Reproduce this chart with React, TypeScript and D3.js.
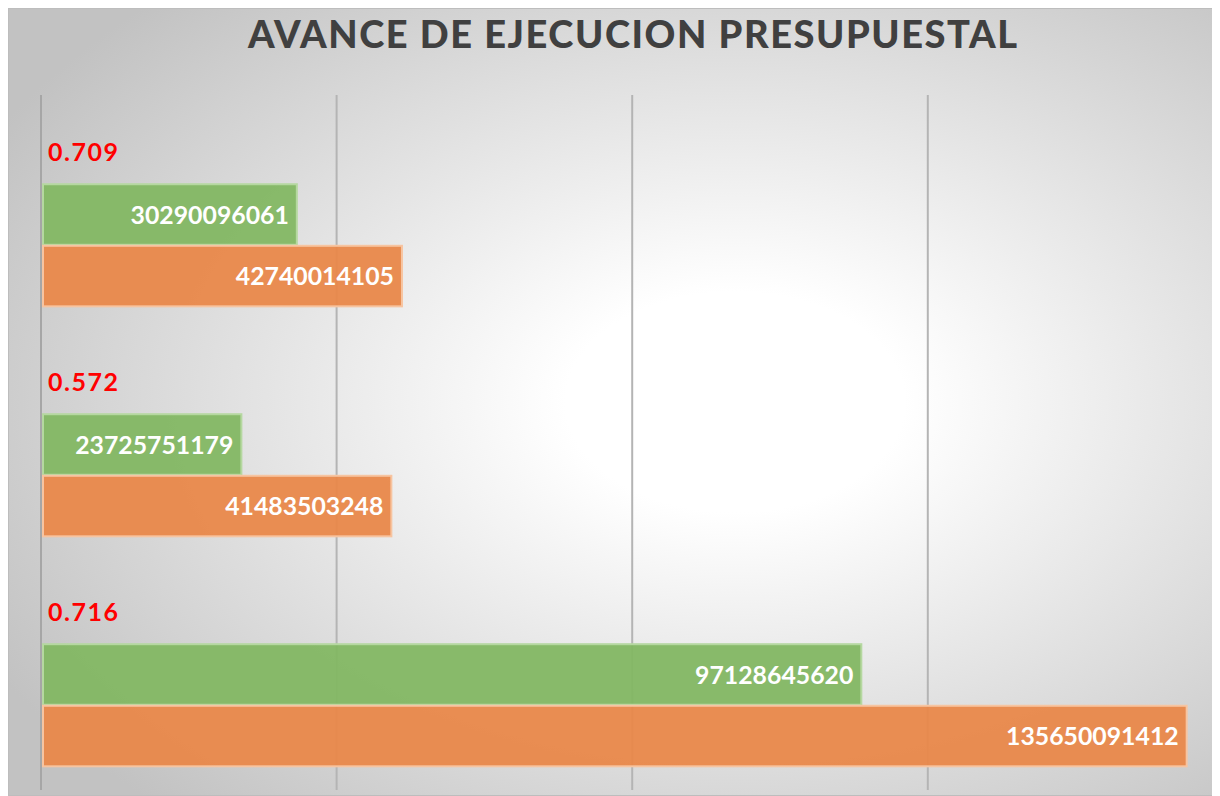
import React from 'react';
import * as d3 from 'd3';

// chart values
const categories = ['Grupo 1', 'Grupo 2', 'Grupo 3'];
const porcentaje = [0.709, 0.572, 0.716];
const ejecutado = [30290096061, 23725751179, 97128645620];
const presupuesto = [42740014105, 41483503248, 135650091412];
const gridTicks = [0, 3.5e10, 7e10, 1.05e11];
const title = 'AVANCE DE EJECUCION PRESUPUESTAL';

const width = 1212;
const height = 788;
const font = "'Comic Sans MS', Lato, 'DejaVu Sans', sans-serif";

const App = () => {
  const x = d3.scaleLinear().domain([0, 1.4e11]).range([33, 1215.4]);
  const y = d3.scaleBand<string>()
    .domain(categories)
    .range([87, 785])
    .paddingInner(0.197)
    .paddingOuter(0.116);
  const slot = d3.scaleBand<string>()
    .domain(['pct', 'ejec', 'pres'])
    .range([0, y.bandwidth()]);

  const series = [
    { key: 'ejec', values: ejecutado, fill: '#83b763', stroke: '#b5d8a0' },
    { key: 'pres', values: presupuesto, fill: '#e9884a', stroke: '#f7c4a0' },
  ];

  return (
    <svg width={width} height={height} style={{ display: 'block' }}>
      <defs>
        <radialGradient id="bg" cx="60%" cy="50%" r="70%">
          <stop offset="0%" stopColor="#ffffff" />
          <stop offset="20%" stopColor="#ffffff" />
          <stop offset="100%" stopColor="#c2c2c2" />
        </radialGradient>
      </defs>
      <rect x={0.5} y={0.5} width={width - 1} height={height - 1} fill="url(#bg)" stroke="#bdbdbd" />
      <text
        x={624.5}
        y={40}
        textAnchor="middle"
        fontFamily={font}
        fontWeight={900}
        fontSize={38}
        fill="#404040"
        textLength={769}
        lengthAdjust="spacing"
      >
        {title}
      </text>

      {gridTicks.map((t, i) => (
        <line
          key={t}
          x1={x(t)}
          x2={x(t)}
          y1={87}
          y2={782}
          stroke={i === 0 ? '#a6a6a6' : '#b4b4b4'}
          strokeWidth={2}
        />
      ))}

      {categories.map((c, ci) => (
        <g key={c} transform={`translate(0,${y(c)})`}>
          <text
            x={x(0) + 7}
            y={(slot('pct') as number) + slot.bandwidth() / 2}
            dy="0.35em"
            fontFamily={font}
            fontWeight={700}
            fontSize={25}
            letterSpacing={1.5}
            fill="#ff0000"
          >
            {porcentaje[ci].toFixed(3)}
          </text>
          {series.map((s) => {
            const top = slot(s.key) as number;
            const w = x(s.values[ci]) - x(0) - 2;
            return (
              <g key={s.key}>
                <rect
                  x={x(0) + 2}
                  y={top + 1}
                  width={w}
                  height={slot.bandwidth() - 1}
                  fill={s.fill}
                  fillOpacity={0.95}
                  stroke={s.stroke}
                  strokeWidth={2}
                />
                <text
                  x={x(s.values[ci]) - 8}
                  y={top + slot.bandwidth() / 2 + 1}
                  dy="0.35em"
                  textAnchor="end"
                  fontFamily={font}
                  fontWeight={700}
                  fontSize={24.8}
                  fill="#ffffff"
                >
                  {s.values[ci]}
                </text>
              </g>
            );
          })}
        </g>
      ))}
    </svg>
  );
};

export default App;
